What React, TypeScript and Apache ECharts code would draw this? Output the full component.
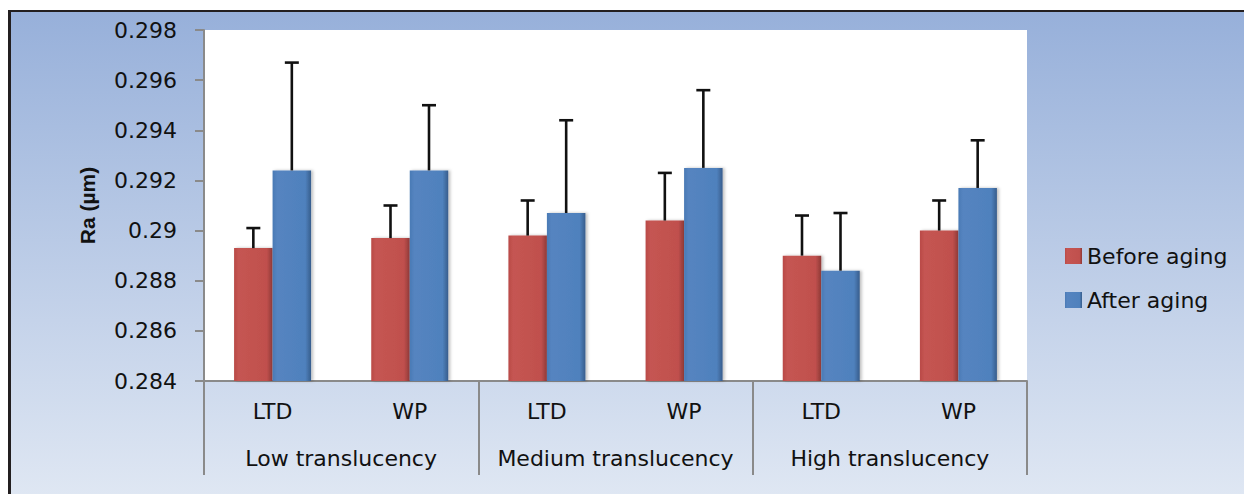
import React, { useEffect, useRef } from "react";
import * as echarts from "echarts";

const subCategories = ["LTD", "WP", "LTD", "WP", "LTD", "WP"];
const groupCategories = ["Low translucency", "Medium translucency", "High translucency"];
const beforeAging = [0.2893, 0.2897, 0.2898, 0.2904, 0.289, 0.29];
const beforeSD = [0.0008, 0.0013, 0.0014, 0.0019, 0.0016, 0.0012];
const afterAging = [0.2924, 0.2924, 0.2907, 0.2925, 0.2884, 0.2917];
const afterSD = [0.0043, 0.0026, 0.0037, 0.0031, 0.0023, 0.0019];
const seriesNames = ["Before aging", "After aging"];
const yMin = 0.284;
const yMax = 0.298;
const yInterval = 0.002;

const FONT = "DejaVu Sans";
const BAR_W = 38.5;
const AXIS_GRAY = "#8a8a8a";

const redFill = {
  type: "linear", x: 0, y: 0, x2: 1, y2: 0,
  colorStops: [
    { offset: 0, color: "#b94a47" },
    { offset: 0.12, color: "#c55552" },
    { offset: 0.85, color: "#c0504d" },
    { offset: 1, color: "#8e3937" },
  ],
};
const blueFill = {
  type: "linear", x: 0, y: 0, x2: 1, y2: 0,
  colorStops: [
    { offset: 0, color: "#4a7ab5" },
    { offset: 0.12, color: "#5584c0" },
    { offset: 0.85, color: "#4f81bd" },
    { offset: 1, color: "#375d8c" },
  ],
};

export default function App() {
  const ref = useRef<HTMLDivElement>(null);
  useEffect(() => {
    document.documentElement.style.overflow = "hidden";
    document.body.style.overflow = "hidden";
    const chart = echarts.init(ref.current!, null, { renderer: "svg" });

    const errData = (vals: number[], sds: number[]) =>
      vals.map((v, i) => [i, v, v + sds[i]]);

    const errRender = (offset: number) => (params: any, api: any) => {
      const base = api.coord([api.value(0), api.value(1)]);
      const top = api.coord([api.value(0), api.value(2)]);
      const x = base[0] + offset;
      const cap = 7;
      const style = { stroke: "#111", lineWidth: 2.6 };
      return {
        type: "group",
        children: [
          { type: "line", shape: { x1: x, y1: base[1], x2: x, y2: top[1] }, style },
          { type: "line", shape: { x1: x - cap, y1: top[1], x2: x + cap, y2: top[1] }, style },
        ],
      };
    };

    chart.setOption({
      animation: false,
      grid: {
        left: 193,
        top: 18,
        width: 823,
        height: 351,
        show: true,
        backgroundColor: "#ffffff",
        borderWidth: 0,
      },
      legend: {
        data: seriesNames,
        orient: "vertical",
        left: 1049,
        top: 228,
        itemWidth: 17,
        itemHeight: 16,
        itemGap: 22,
        icon: "rect",
        textStyle: { fontFamily: FONT, fontSize: 22, color: "#111" },
      },
      xAxis: [
        {
          type: "category",
          data: subCategories,
          position: "bottom",
          axisLine: { show: true, lineStyle: { color: AXIS_GRAY, width: 2 } },
          axisTick: { show: false },
          axisLabel: { fontFamily: FONT, fontSize: 22, color: "#111", margin: 19, interval: 0 },
        },
        {
          type: "category",
          data: groupCategories,
          position: "bottom",
          axisLine: { show: false },
          axisTick: { show: true, length: 94, interval: 0, lineStyle: { color: AXIS_GRAY, width: 2 } },
          axisLabel: { fontFamily: FONT, fontSize: 22, color: "#111", margin: 66, interval: 0 },
        },
      ],
      yAxis: {
        type: "value",
        min: yMin,
        max: yMax,
        interval: yInterval,
        name: "Ra (µm)",
        nameLocation: "middle",
        nameRotate: 90,
        nameGap: 106,
        nameTextStyle: { fontFamily: "Liberation Sans", fontSize: 21, fontWeight: "bold", color: "#111" },
        axisLine: { show: true, lineStyle: { color: AXIS_GRAY, width: 2 } },
        axisTick: { show: true, length: 9, lineStyle: { color: AXIS_GRAY, width: 2 } },
        splitLine: { show: false },
        axisLabel: {
          fontFamily: FONT,
          fontSize: 22,
          color: "#111",
          margin: 27,
          formatter: (v: number) => String(parseFloat(v.toFixed(3))),
        },
      },
      series: [
        {
          name: seriesNames[0],
          type: "bar",
          data: beforeAging,
          barWidth: BAR_W,
          barGap: "0%",
          itemStyle: { color: redFill as any, shadowBlur: 3, shadowOffsetX: 2, shadowColor: "rgba(0,0,0,0.25)" },
        },
        {
          name: seriesNames[1],
          type: "bar",
          data: afterAging,
          barWidth: BAR_W,
          barGap: "0%",
          itemStyle: { color: blueFill as any, shadowBlur: 3, shadowOffsetX: 2, shadowColor: "rgba(0,0,0,0.25)" },
        },
        {
          type: "custom",
          name: "err-before",
          data: errData(beforeAging, beforeSD),
          encode: { x: 0, y: [1, 2] },
          renderItem: errRender(-BAR_W / 2),
          z: 5,
          silent: true,
        },
        {
          type: "custom",
          name: "err-after",
          data: errData(afterAging, afterSD),
          encode: { x: 0, y: [1, 2] },
          renderItem: errRender(BAR_W / 2),
          z: 5,
          silent: true,
        },
      ],
    });
    return () => chart.dispose();
  }, []);

  return (
    <div
      style={{
        position: "relative",
        top: 2,
        width: 1244,
        height: 486,
        boxSizing: "border-box",
        borderTop: "2px solid #231f20",
        borderLeft: "3px solid #231f20",
        background: "linear-gradient(to bottom, #97b0da, #dfe7f3)",
      }}
    >
      <div ref={ref} style={{ width: 1241, height: 484 }} />
    </div>
  );
}
